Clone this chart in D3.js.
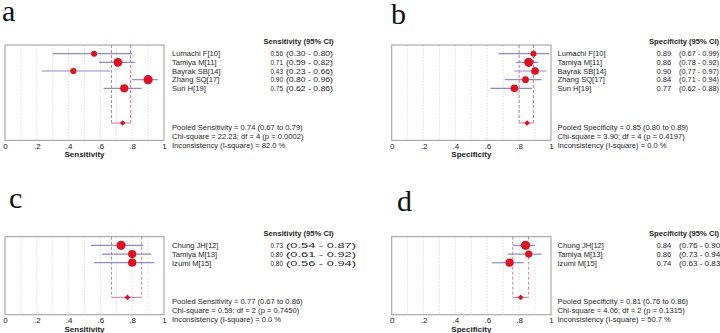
<!DOCTYPE html>
<html>
<head>
<meta charset="utf-8">
<script src="https://cdn.jsdelivr.net/npm/d3@7"></script>
<style>
  body { margin: 0; background: #fff; }
  svg { display: block; font-family: "Liberation Sans", Arial, sans-serif; }
</style>
</head>
<body>
<svg id="mainsvg" width="720" height="333"></svg>
<script>
// ---- data ----
const tickVals = [0, 0.2, 0.4, 0.6, 0.8, 1];
const tickLabels = ['0', '.2', '.4', '.6', '.8', '1'];
const gridVals = [0.1, 0.2, 0.3, 0.4, 0.5, 0.6, 0.7, 0.8, 0.9];

const aNames = ['Lumachi F[10]', 'Tamiya M[11]', 'Bayrak SB[14]', 'Zhang SQ[17]', 'Sun H[19]'];
const aEst = [0.56, 0.71, 0.43, 0.90, 0.75];
const aLo = [0.30, 0.59, 0.23, 0.80, 0.62];
const aHi = [0.80, 0.82, 0.66, 0.96, 0.86];
const aWeight = [3, 4.4, 3.1, 4.6, 4.1];
const aPooled = [0.74, 0.67, 0.79];
const aStats = ['Pooled Sensitivity = 0.74 (0.67 to 0.79)', 'Chi-square = 22.23; df =  4 (p = 0.0002)', 'Inconsistency (I-square) = 82.0 %'];

const bNames = aNames;
const bEst = [0.89, 0.86, 0.90, 0.84, 0.77];
const bLo = [0.67, 0.78, 0.77, 0.71, 0.62];
const bHi = [0.99, 0.92, 0.97, 0.94, 0.88];
const bWeight = [3, 4.6, 3.8, 3.4, 3.8];
const bPooled = [0.85, 0.80, 0.89];
const bStats = ['Pooled Specificity = 0.85 (0.80 to 0.89)', 'Chi-square = 3.90; df =  4 (p = 0.4197)', 'Inconsistency (I-square) = 0.0 %'];

const cNames = ['Chung JH[12]', 'Tamiya M[13]', 'Izumi M[15]'];
const cEst = [0.73, 0.80, 0.80];
const cLo = [0.54, 0.61, 0.56];
const cHi = [0.87, 0.92, 0.94];
const cWeight = [4.6, 4.1, 4.1];
const cPooled = [0.77, 0.67, 0.86];
const cStats = ['Pooled Sensitivity = 0.77 (0.67 to 0.86)', 'Chi-square = 0.59; df =  2 (p = 0.7450)', 'Inconsistency (I-square) = 0.0 %'];

const dNames = cNames;
const dEst = [0.84, 0.86, 0.74];
const dLo = [0.76, 0.73, 0.63];
const dHi = [0.90, 0.94, 0.83];
const dWeight = [4.6, 3.6, 4.1];
const dPooled = [0.81, 0.76, 0.86];
const dStats = ['Pooled Specificity = 0.81 (0.76 to 0.86)', 'Chi-square = 4.06; df =  2 (p = 0.1315)', 'Inconsistency (I-square) = 50.7 %'];

const svg = d3.select('#mainsvg');
const fmt = v => v.toFixed(2);

// clip for panel c text (the original image is cut there)
svg.append('defs').append('clipPath').attr('id', 'clipLeft')
  .append('rect').attr('x', 0).attr('y', 0).attr('width', 359.5).attr('height', 333);

function drawPanel(p) {
  const n = p.names.length;
  const x = d3.scaleLinear().domain([0, 1]).range([p.left, p.right]);
  const y = d3.scaleLinear().domain([0, n + 6]).range([p.top, p.top + (n + 6) * 8.67]);
  const bottom = y(n + 6);
  const g = svg.append('g');

  // panel letter
  svg.append('text').attr('x', p.lx).attr('y', p.ly)
    .attr('font-family', '"Liberation Serif", "DejaVu Serif", serif')
    .attr('font-size', 30).attr('fill', '#111').text(p.letter);

  // grid
  g.selectAll('line.grid').data(gridVals).join('line')
    .attr('x1', d => x(d)).attr('x2', d => x(d))
    .attr('y1', p.top).attr('y2', bottom)
    .attr('stroke', '#d8d8d8').attr('stroke-width', 0.8)
    .attr('stroke-dasharray', '1.5,1.5');

  // box
  g.append('rect').attr('x', p.left).attr('y', p.top)
    .attr('width', p.right - p.left).attr('height', bottom - p.top)
    .attr('fill', 'none').attr('stroke', '#9a9a9a').attr('stroke-width', 1);

  // pooled CI dashed lines
  const pr = n + 4;
  [p.pooled[1], p.pooled[2]].forEach(v => {
    g.append('line').attr('x1', x(v)).attr('x2', x(v))
      .attr('y1', p.top).attr('y2', y(pr))
      .attr('stroke', '#d27a9a').attr('stroke-width', 1)
      .attr('stroke-dasharray', '3,2');
  });
  g.append('line').attr('x1', x(p.pooled[1])).attr('x2', x(p.pooled[2]))
    .attr('y1', y(pr)).attr('y2', y(pr))
    .attr('stroke', '#d27a9a').attr('stroke-width', 1);

  const idx = d3.range(n);
  // CI lines
  g.selectAll('line.ci').data(idx).join('line')
    .attr('x1', i => x(p.lo[i])).attr('x2', i => x(p.hi[i]))
    .attr('y1', i => y(i + 1)).attr('y2', i => y(i + 1))
    .attr('stroke', '#8a8ad0').attr('stroke-width', 1.2);
  // points
  g.selectAll('circle.pt').data(idx).join('circle')
    .attr('cx', i => x(p.est[i])).attr('cy', i => y(i + 1))
    .attr('r', i => p.w[i]).attr('fill', '#e0101e');

  // pooled diamond
  const cx = x(p.pooled[0]), cy = y(pr), dr = 2.8;
  g.append('path')
    .attr('d', `M${cx - dr},${cy}L${cx},${cy - dr}L${cx + dr},${cy}L${cx},${cy + dr}Z`)
    .attr('fill', '#e0101e');

  // axis
  const ax = g.append('g').attr('transform', `translate(0,${bottom})`)
    .call(d3.axisBottom(x).tickValues(tickVals).tickSize(0).tickPadding(3)
      .tickFormat((d, i) => tickLabels[i]));
  ax.select('.domain').remove();
  ax.selectAll('text').attr('font-size', 8).attr('fill', '#222')
    .attr('font-family', '"Liberation Sans", Arial, sans-serif');
  g.append('text').attr('x', x(0.5)).attr('y', bottom + 17)
    .attr('text-anchor', 'middle').attr('font-size', 8).attr('font-weight', 'bold')
    .attr('fill', '#222').text(p.axisTitle);

  // text columns
  const t = svg.append('g').attr('font-size', 7.6).attr('fill', '#262626');
  if (p.clip) t.attr('clip-path', 'url(#clipLeft)');
  t.append('text').attr('x', p.hx).attr('y', p.top - 1)
    .attr('font-weight', 'bold').text(p.header);
  t.selectAll('text.nm').data(idx).join('text').attr('class', 'nm')
    .attr('x', p.nx).attr('y', i => y(i + 1) + 2.8).text(i => p.names[i]);
  const vals = t.selectAll('text.vl').data(idx).join('text').attr('class', 'vl')
    .attr('x', p.vx).attr('y', i => y(i + 1) + 2.8).text(i => fmt(p.est[i]));
  if (p.vw) vals.attr('textLength', p.vw).attr('lengthAdjust', 'spacingAndGlyphs');
  t.selectAll('text.cl').data(idx).join('text').attr('class', 'cl')
    .attr('x', p.cx).attr('y', i => y(i + 1) + 2.8)
    .attr('textLength', p.cw).attr('lengthAdjust', 'spacingAndGlyphs')
    .text(i => `(${fmt(p.lo[i])} - ${fmt(p.hi[i])})`);
  t.selectAll('text.st').data(p.stats).join('text').attr('class', 'st')
    .attr('x', p.nx).attr('y', (d, i) => y(pr) + 6.8 + i * 9).text(d => d);
}

drawPanel({ letter: 'a', lx: 2, ly: 21, left: 5, right: 164, top: 45,
  names: aNames, est: aEst, lo: aLo, hi: aHi, w: aWeight, pooled: aPooled, stats: aStats,
  axisTitle: 'Sensitivity', header: 'Sensitivity (95% CI)',
  nx: 172, vx: 270.5, vw: 12.5, cx: 286, cw: 47, hx: 263.5 });
drawPanel({ letter: 'b', lx: 391, ly: 24, left: 391.7, right: 551, top: 45,
  names: bNames, est: bEst, lo: bLo, hi: bHi, w: bWeight, pooled: bPooled, stats: bStats,
  axisTitle: 'Specificity', header: 'Specificity (95% CI)',
  nx: 557.5, vx: 656.5, cx: 679, cw: 40, hx: 649 });
drawPanel({ letter: 'c', lx: 9, ly: 208, left: 5, right: 164, top: 236.7, clip: true,
  names: cNames, est: cEst, lo: cLo, hi: cHi, w: cWeight, pooled: cPooled, stats: cStats,
  axisTitle: 'Sensitivity', header: 'Sensitivity (95% CI)',
  nx: 172, vx: 270.5, vw: 12.5, cx: 286, cw: 70, hx: 263.5 });
drawPanel({ letter: 'd', lx: 397, ly: 211, left: 391.7, right: 551, top: 236.7,
  names: dNames, est: dEst, lo: dLo, hi: dHi, w: dWeight, pooled: dPooled, stats: dStats,
  axisTitle: 'Specificity', header: 'Specificity (95% CI)',
  nx: 557.5, vx: 656.5, cx: 679, cw: 44, hx: 649 });
</script>
</body>
</html>
